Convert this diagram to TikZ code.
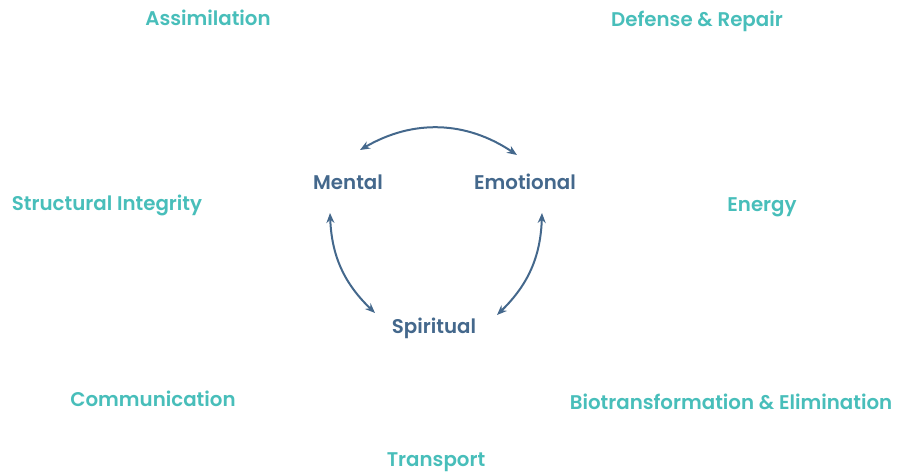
\documentclass[tikz,border=0pt]{standalone}
\usepackage{fontspec}
\setmainfont{Poppins}
\newfontfamily\gothic{Poppins SemiBold}
\usetikzlibrary{arrows.meta}
\definecolor{tealtext}{RGB}{72,190,186}
\definecolor{slateblue}{RGB}{68,104,140}
\begin{document}
\begin{tikzpicture}[x=1pt,y=1pt,font=\gothic\fontsize{19.8}{22}\selectfont,
  outer/.style={text=tealtext, inner sep=0pt},
  inner/.style={text=slateblue, inner sep=0pt},
  link/.style={slateblue, line width=2pt, {Stealth[length=10pt,width=8pt]}-{Stealth[length=10pt,width=8pt]}}]
\useasboundingbox (0,0) rectangle (912,476);

% body systems
\node[outer] (assim) at (208,458) {Assimilation};
\node[outer] (defense) at (697,455) {Defense \& Repair};
\node[outer] (struct) at (107,271) {Structural Integrity};
\node[outer] (energy) at (762,269) {Energy};
\node[outer] (comm) at (153,77) {Communication};
\node[outer] (biotrans) at (731,74) {Biotransformation \& Elimination};
\node[outer] (transport) at (436,14) {Transport};

% center
\node[inner] (mental) at (348,294) {Mental};
\node[inner] (emotional) at (525,294) {Emotional};
\node[inner] (spiritual) at (434,148) {Spiritual};

% arrows
\draw[link] ([shift={(12,32)}]mental.center) to[bend left=32] ([shift={(-8,27)}]emotional.center);
\draw[link] ([shift={(-18,-31)}]mental.center) to[bend right=22] ([shift={(-59,15)}]spiritual.center);
\draw[link] ([shift={(17,-31)}]emotional.center) to[bend left=22] ([shift={(63,13)}]spiritual.center);

\end{tikzpicture}
\end{document}
